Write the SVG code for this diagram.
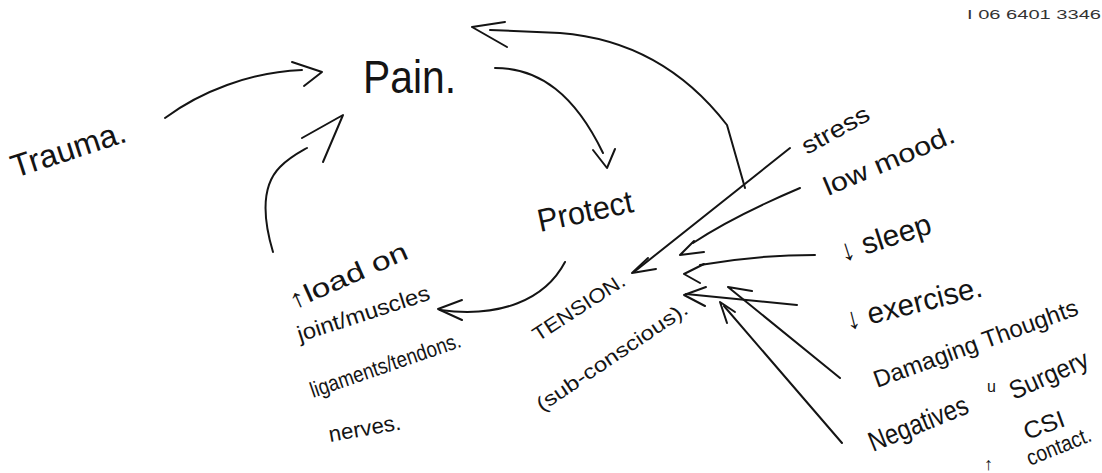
<svg xmlns="http://www.w3.org/2000/svg" width="1102" height="473" viewBox="0 0 1102 473">
<style>
.t{font-family:"Liberation Sans","DejaVu Sans",sans-serif;fill:#141414}
.ln{fill:none;stroke:#141414;stroke-width:2;stroke-linecap:round;stroke-linejoin:round}
</style>
<rect width="1102" height="473" fill="#ffffff"/>
<g id="connectors">
<path class="ln" d="M165,118 C200,92 250,72 302,70"/>
<path class="ln" d="M292,62 L322,72 L304,86"/>
<path class="ln" d="M273,252 C262,215 262,185 280,167 C290,157 300,152 307,148"/>
<path class="ln" d="M302,138 L343,115 L323,162"/>
<path class="ln" d="M495,68 C540,68 575,95 603,153"/>
<path class="ln" d="M593,150 L607,168 L615,149"/>
<path class="ln" d="M565,262 C545,300 500,318 440,310"/>
<path class="ln" d="M462,300 L438,309 L462,320"/>
<path class="ln" d="M745,188 L727,125 C700,90 650,40 560,33 L490,30"/>
<path class="ln" d="M505,22 L472,27 L507,47"/>
<path class="ln" d="M790,148 L634,272"/>
<path class="ln" d="M648,258 L632,273 L656,269"/>
<path class="ln" d="M800,188 C760,205 720,225 693,243"/>
<path class="ln" d="M694,241 L680,255 L704,252"/>
<path class="ln" d="M815,255 C780,255 740,258 700,265"/>
<path class="ln" d="M704,264 L684,274 L700,283"/>
<path class="ln" d="M797,305 L686,294"/>
<path class="ln" d="M706,287 L684,295 L705,306"/>
<path class="ln" d="M840,378 L728,287 L752,291"/>
<path class="ln" d="M842,443 L724,306"/>
<path class="ln" d="M727,323 L720,302 L735,312"/>
</g>
<g id="node-trauma"><text class="t" x="15" y="178" font-size="32" textLength="119" lengthAdjust="spacingAndGlyphs" transform="rotate(-18 15 178)">Trauma.</text></g>
<g id="node-pain"><text class="t" x="363" y="93" font-size="46" textLength="93" lengthAdjust="spacingAndGlyphs">Pain.</text></g>
<g id="node-protect"><text class="t" x="540" y="232" font-size="32" textLength="97" lengthAdjust="spacingAndGlyphs" transform="rotate(-12 540 232)">Protect</text></g>
<g id="node-load">
<text class="t" x="293" y="310" font-size="26" textLength="128" lengthAdjust="spacingAndGlyphs" transform="rotate(-24 293 310)">↑load on</text>
<text class="t" x="300" y="342" font-size="22" textLength="138" lengthAdjust="spacingAndGlyphs" transform="rotate(-18 300 342)">joint/muscles</text>
<text class="t" x="313" y="398" font-size="22" textLength="158" lengthAdjust="spacingAndGlyphs" transform="rotate(-19 313 398)">ligaments/tendons.</text>
<text class="t" x="330" y="442" font-size="22" textLength="73" lengthAdjust="spacingAndGlyphs" transform="rotate(-10 330 442)">nerves.</text>
</g>
<g id="node-tension">
<text class="t" x="538" y="342" font-size="20" textLength="106" lengthAdjust="spacingAndGlyphs" transform="rotate(-33 538 342)">TENSION.</text>
<text class="t" x="542" y="412" font-size="20" textLength="178" lengthAdjust="spacingAndGlyphs" transform="rotate(-34 542 412)">(sub-conscious).</text>
</g>
<g id="node-stress"><text class="t" x="807" y="155" font-size="24" textLength="74" lengthAdjust="spacingAndGlyphs" transform="rotate(-29 807 155)">stress</text></g>
<g id="node-lowmood"><text class="t" x="828" y="196" font-size="26" textLength="140" lengthAdjust="spacingAndGlyphs" transform="rotate(-23 828 196)">low mood.</text></g>
<g id="node-sleep"><text class="t" x="843" y="262" font-size="30" textLength="95" lengthAdjust="spacingAndGlyphs" transform="rotate(-18 843 262)">↓ sleep</text></g>
<g id="node-exercise"><text class="t" x="848" y="330" font-size="30" textLength="140" lengthAdjust="spacingAndGlyphs" transform="rotate(-14 848 330)">↓ exercise.</text></g>
<g id="node-damaging"><text class="t" x="877" y="388" font-size="24" transform="rotate(-20 877 388)">Damaging Thoughts</text></g>
<g id="node-negatives">
<text class="t" x="873" y="452" font-size="28" textLength="105" lengthAdjust="spacingAndGlyphs" transform="rotate(-22 873 452)">Negatives</text>
<text class="t" x="987" y="392" font-size="16">u</text>
<text class="t" x="1014" y="400" font-size="26" textLength="84" lengthAdjust="spacingAndGlyphs" transform="rotate(-24 1014 400)">Surgery</text>
<text class="t" x="1027" y="440" font-size="24" textLength="42" lengthAdjust="spacingAndGlyphs" transform="rotate(-20 1027 440)">CSI</text>
<text class="t" x="984" y="470" font-size="18">↑</text>
<text class="t" x="1030" y="466" font-size="22" textLength="68" lengthAdjust="spacingAndGlyphs" transform="rotate(-22 1030 466)">contact.</text>
</g>
<g id="header"><text class="t" x="967" y="19" font-size="13" textLength="134" lengthAdjust="spacingAndGlyphs" style="fill:#333">I 06 6401 3346</text></g>
</svg>
